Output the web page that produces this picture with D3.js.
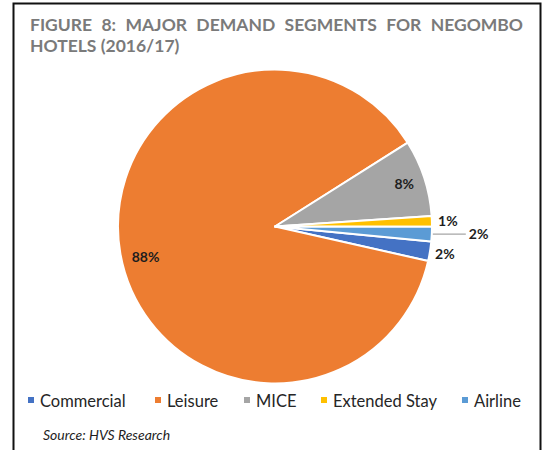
<!DOCTYPE html>
<html>
<head>
<meta charset="utf-8">
<script src="https://cdn.jsdelivr.net/npm/d3@7"></script>
<style>
  html, body { margin: 0; padding: 0; background: #fff; }
  svg { display: block; }
</style>
</head>
<body>
<svg id="chart" width="552" height="450"></svg>
<script>
// ---- data ----
const categories = ["Commercial", "Leisure", "MICE", "Extended Stay", "Airline"];
const shares = [2.0, 87.5, 7.9, 1.1, 1.5];
const colors = ["#4472C4", "#ED7D31", "#A5A5A5", "#FFC000", "#5B9BD5"];
const titleLine1 = ["FIGURE", "8:", "MAJOR", "DEMAND", "SEGMENTS", "FOR", "NEGOMBO"];
const titleLine2 = "HOTELS (2016/17)";
const sourceText = "Source: HVS Research";

// ---- layout ----
const W = 552, H = 450;
const cx = 275, cy = 226.5, R = 157;
const startDeg = 95.5;
const font = "Lato, 'Open Sans', sans-serif";

const svg = d3.select("#chart");

// frame
svg.append("rect")
  .attr("x", 13.5).attr("y", 3.5)
  .attr("width", 527).attr("height", 460)
  .attr("fill", "none").attr("stroke", "#111").attr("stroke-width", 2);

// title (justified line 1)
const tG = svg.append("g").attr("font-family", font).attr("font-weight", 700)
  .attr("font-size", 17.5).attr("fill", "#7a7a7a");
const left = 30, right = 523;
const words = tG.selectAll("text.w").data(titleLine1).join("text")
  .attr("class", "w").attr("y", 31).text(d => d);
const widths = [];
words.each(function() { widths.push(this.getComputedTextLength()); });
const gap = (right - left - d3.sum(widths)) / (titleLine1.length - 1);
let xx = left;
words.each(function(d, i) { d3.select(this).attr("x", xx); xx += widths[i] + gap; });
tG.append("text").attr("x", left).attr("y", 52).text(titleLine2);

// pie
const pie = d3.pie().sort(null).value(d => d)
  .startAngle(startDeg * Math.PI / 180)
  .endAngle(startDeg * Math.PI / 180 + 2 * Math.PI);
const arcs = pie(shares);
const arc = d3.arc().innerRadius(0).outerRadius(R);

const g = svg.append("g").attr("transform", `translate(${cx},${cy})`);
g.selectAll("path").data(arcs).join("path")
  .attr("d", arc)
  .attr("fill", (d, i) => colors[i])
  .attr("stroke", "#fff").attr("stroke-width", 2).attr("stroke-linejoin", "round");

// labels
const labelLayout = [
  { r: 172, dAng: 0, anchor: "middle" },      // Commercial
  { r: 133, dAng: -3.5, anchor: "middle" },   // Leisure
  { r: 136, dAng: 0, anchor: "middle" },      // MICE
  { r: 173, dAng: 0, anchor: "middle" },      // Extended Stay
  { r: 0, dAng: 0, anchor: "start", leader: true } // Airline
];
const lg = g.append("g").attr("font-family", font).attr("font-weight", 700)
  .attr("font-size", 14).attr("fill", "#1e1e1e");
arcs.forEach((a, i) => {
  const L = labelLayout[i];
  const mid = (a.startAngle + a.endAngle) / 2 + L.dAng * Math.PI / 180;
  const txt = Math.round(shares[i]) + "%";
  if (L.leader) {
    const px = (R + 1) * Math.sin(mid), py = -(R + 1) * Math.cos(mid);
    g.append("line").attr("x1", px).attr("y1", py).attr("x2", px + 33).attr("y2", py)
      .attr("stroke", "#a6a6a6").attr("stroke-width", 1.2);
    lg.append("text").attr("x", px + 36).attr("y", py).attr("dy", "0.35em")
      .attr("text-anchor", "start").text(txt);
  } else {
    lg.append("text")
      .attr("x", L.r * Math.sin(mid)).attr("y", -L.r * Math.cos(mid))
      .attr("dy", "0.35em").attr("text-anchor", L.anchor).text(txt);
  }
});

// legend
const legendX = [28, 155, 244, 321, 462];
const leg = svg.append("g").attr("font-family", font).attr("font-size", 16.5).attr("fill", "#262626");
categories.forEach((c, i) => {
  leg.append("rect").attr("x", legendX[i]).attr("y", 397).attr("width", 6).attr("height", 6)
    .attr("fill", colors[i]);
  leg.append("text").attr("x", legendX[i] + 12).attr("y", 401).attr("dy", "0.35em").text(c);
});

// source
svg.append("text").attr("x", 43).attr("y", 440)
  .attr("font-family", font).attr("font-style", "italic").attr("font-size", 14)
  .attr("fill", "#1e1e1e").text(sourceText);
</script>
</body>
</html>
